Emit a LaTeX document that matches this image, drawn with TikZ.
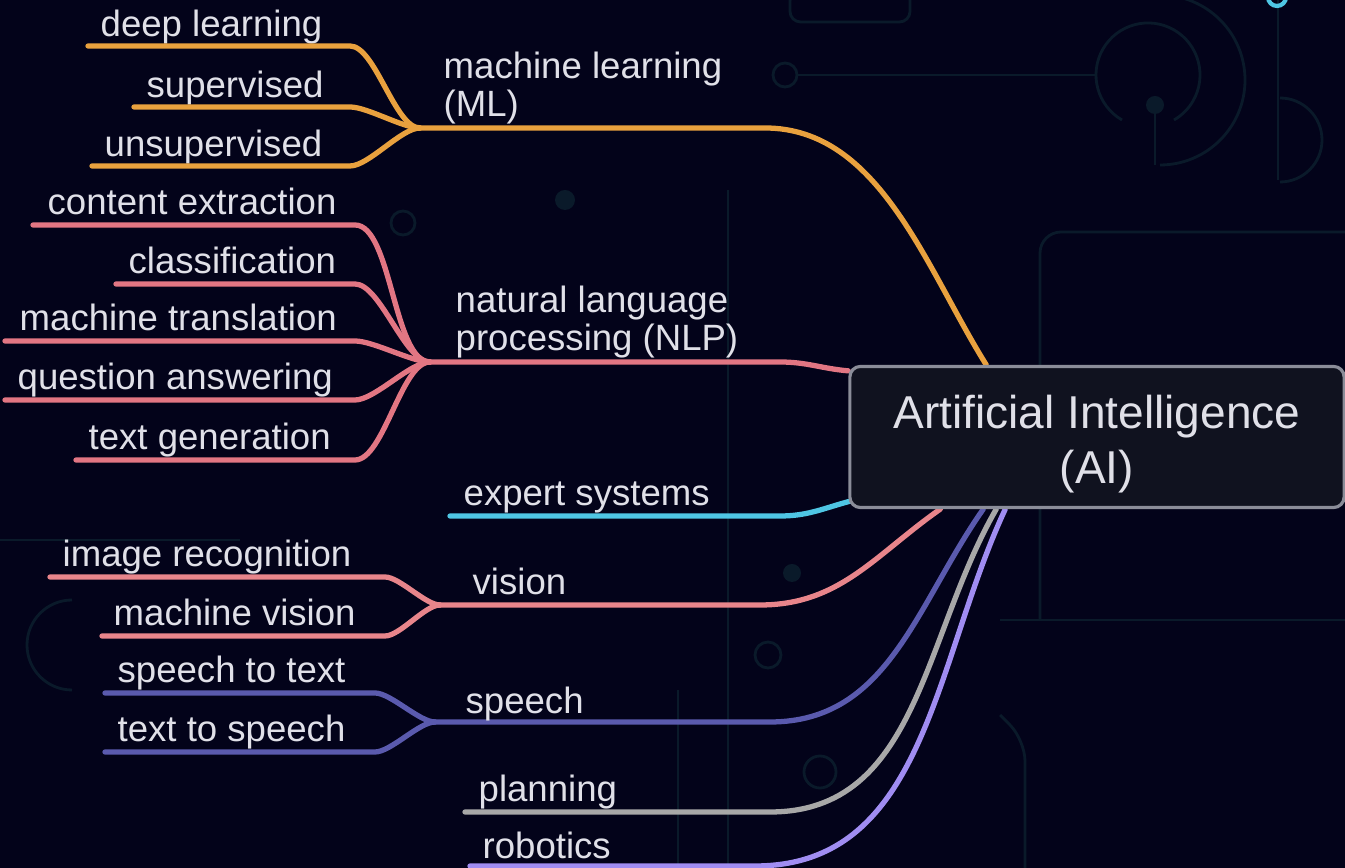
\documentclass[tikz,border=0pt]{standalone}
\usepackage{fontspec}
\setmainfont{Liberation Sans}
\usetikzlibrary{calc,backgrounds}
\definecolor{bg}{HTML}{03031A}
\definecolor{txt}{HTML}{E0E0E8}
\definecolor{deco}{HTML}{0A1A2A}
\definecolor{mlc}{HTML}{E9A13E}
\definecolor{nlpc}{HTML}{E27683}
\definecolor{visc}{HTML}{E8858B}
\definecolor{expc}{HTML}{4FC6E4}
\definecolor{spc}{HTML}{5A5AAE}
\definecolor{plc}{HTML}{A8A8A8}
\definecolor{robc}{HTML}{A08DF2}
\definecolor{boxc}{HTML}{10121F}
\definecolor{boxb}{HTML}{8B8D99}
\begin{document}
\begin{tikzpicture}[x=0.01cm,y=-0.01cm,
    lbl/.style={text=txt,font=\fontsize{10.4}{11}\selectfont,inner sep=0pt,anchor=base west},
    br/.style={line width=1.5pt,line cap=round},
    dec/.style={draw=deco,line width=.8pt},
    aibox/.style={draw=boxb,fill=boxc,line width=.9pt,rounded corners=3pt,minimum width=4.94cm,
        minimum height=1.41cm,align=center,inner sep=0pt,text=txt,font=\fontsize{13.1}{15.6}\selectfont}]
    \useasboundingbox (0,0) rectangle (1345,868);
    \node[aibox] (ai) at (1097,437) {\rule{0pt}{13.6pt}Artificial Intelligence\\(AI)};
    \coordinate (ml) at (420,128);
    \coordinate (mlk) at (350,128);
    \coordinate (nlp) at (430,362);
    \coordinate (nlpk) at (355,362);
    \coordinate (vis) at (440,605);
    \coordinate (visk) at (385,605);
    \coordinate (sp) at (435,722);
    \coordinate (spk) at (375,722);
    \coordinate (es) at (450,516);
    \coordinate (pl) at (465,812);
    \coordinate (rb) at (470,866);
    \begin{scope}[on background layer]
    \fill[bg] (0,0) rectangle (1345,868);
    \draw[dec] (797,75) -- (1096,75);
    \draw[dec] (785,75) circle (12);
    \draw[dec] (1122,120) arc[start angle=120,end angle=420,radius=52];
    \draw[dec] (1160,165) arc[start angle=90,end angle=-90,radius=85];
    \draw[dec] (1155,165) -- (1155,105);
    \fill[deco] (1155,105) circle (9);
    \draw[dec] (1278,0) -- (1278,180);
    \draw[dec] (1280,98) arc[start angle=-90,end angle=90,radius=42];
    \draw[dec,rounded corners=6pt] (1040,620) -- (1040,232) -- (1370,232);
    \draw[dec] (1000,620) -- (1345,620);
    \draw[dec,rounded corners=6pt] (1000,715) -- (1025,740) -- (1025,868);
    \draw[dec,rounded corners=3pt] (790,-10) rectangle (910,22);
    \draw[dec] (728,190) -- (728,868);
    \draw[dec] (678,690) -- (678,868);
    \draw[dec] (768,655) circle (13);
    \draw[dec] (820,772) circle (16);
    \fill[deco] (565,200) circle (10);
    \fill[deco] (792,573) circle (9);
    \draw[dec] (403,223) circle (12);
    \draw[dec] (0,540) -- (240,540);
    \draw[dec] (72,600) arc[start angle=-90,end angle=-270,radius=45];
    \draw[expc,line width=1.2pt] (1277,-3) circle (9);
    \draw[br,mlc] (ml) -- ++(345,0) to[out=0,in=122,looseness=.9] ($(ai.north west)+(138,0)$);
    \draw[br,nlpc] (nlp) -- ++(350,0) to[out=0,in=175] ($(ai.north west)+(0,6)$);
    \draw[br,expc] (es) -- ++(330,0) to[out=0,in=195] ($(ai.south west)+(2,-8)$);
    \draw[br,visc] (vis) -- ++(320,0) to[out=0,in=215] ($(ai.south west)+(92,0)$);
    \draw[br,spc] (sp) -- ++(335,0) to[out=0,in=235] ($(ai.south west)+(135,0)$);
    \draw[br,plc] (pl) -- ++(305,0) to[out=0,in=240] ($(ai.south west)+(148,0)$);
    \draw[br,robc] (rb) -- ++(285,0) to[out=0,in=245] ($(ai.south west)+(157,0)$);
    \foreach \n/\t/\xt/\xl/\y in {dl/deep learning/100/88/46,sv/supervised/146/134/107,us/unsupervised/104/92/166}{
        \node[lbl] (\n) at (\xt,\y-9) {\t};
        \coordinate (\n0) at (\xl,\y);
        \draw[br,mlc] (\n0) -- (\n0 -| mlk) to[out=0,in=180,looseness=.6] (ml);}
    \foreach \n/\t/\xt/\xl/\y in {ce/content extraction/47/33/225,cl/classification/128/116/284,
        mt/machine translation/19/5/341,qa/question answering/17/5/400,tg/text generation/88/76/460}{
        \node[lbl] (\n) at (\xt,\y-10) {\t};
        \coordinate (\n0) at (\xl,\y);
        \draw[br,nlpc] (\n0) -- (\n0 -| nlpk) to[out=0,in=180,looseness=.6] (nlp);}
    \foreach \n/\t/\xt/\xl/\y in {ir/image recognition/62/50/577,mv/machine vision/113/102/636}{
        \node[lbl] (\n) at (\xt,\y-10) {\t};
        \coordinate (\n0) at (\xl,\y);
        \draw[br,visc] (\n0) -- (\n0 -| visk) to[out=0,in=180,looseness=.6] (vis);}
    \foreach \n/\t/\xt/\xl/\y in {st/speech to text/117/105/693,ts/text to speech/117/105/752}{
        \node[lbl] (\n) at (\xt,\y-10) {\t};
        \coordinate (\n0) at (\xl,\y);
        \draw[br,spc] (\n0) -- (\n0 -| spk) to[out=0,in=180,looseness=.6] (sp);}
    \node[lbl,anchor=north west,align=left] (mlt) at (443,51) {machine learning\\(ML)};
    \node[lbl,anchor=north west,align=left] (nlpt) at (455,285) {natural language\\processing (NLP)};
    \node[lbl] (est) at (463,506) {expert systems};
    \node[lbl] (vist) at (472,595) {vision};
    \node[lbl] (spt) at (465,714) {speech};
    \node[lbl] (plt) at (478,802) {planning};
    \node[lbl] (rbt) at (482,859) {robotics};
    \end{scope}
\end{tikzpicture}
\end{document}
